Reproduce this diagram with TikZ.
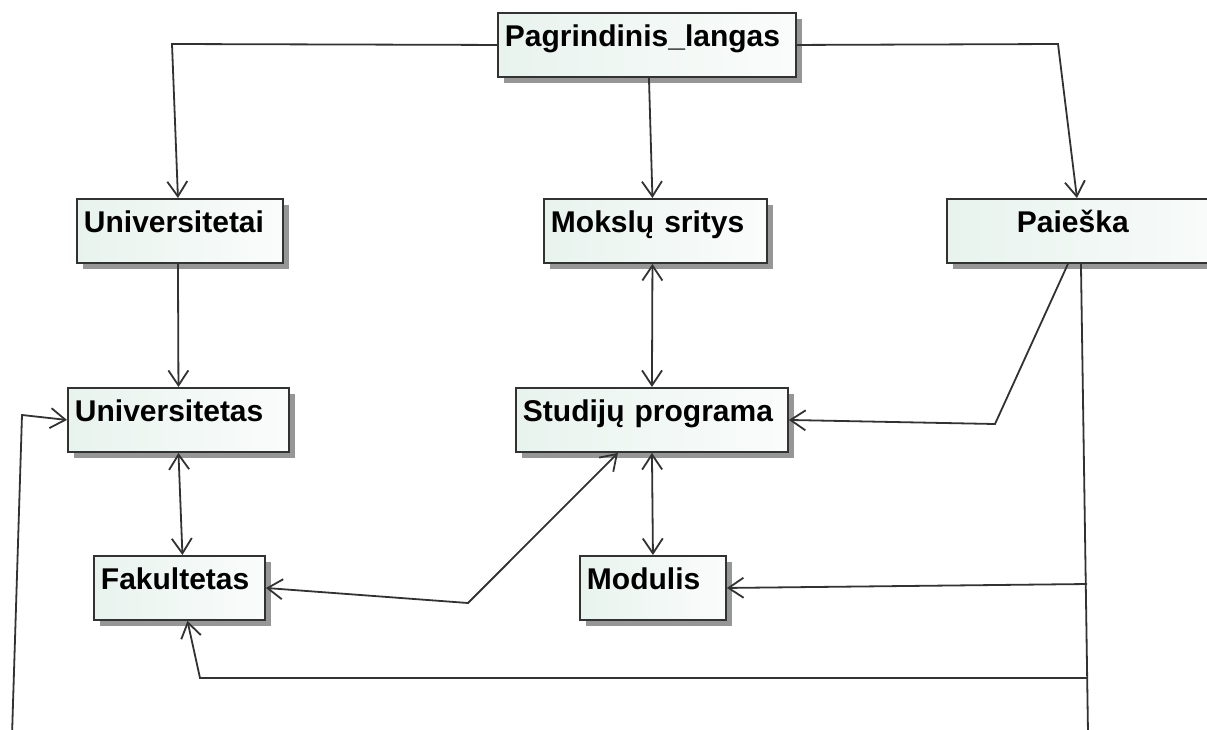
\documentclass[tikz,border=0pt]{standalone}
\usepackage{fontspec}
\setmainfont{Liberation Sans}
\usetikzlibrary{arrows.meta,shadows}
\definecolor{linegray}{RGB}{50,50,50}
\definecolor{boxleft}{RGB}{232,243,238}
\definecolor{boxright}{RGB}{250,252,251}
\definecolor{shadowgray}{RGB}{150,150,150}
\tikzset{
  box/.style={draw=linegray, line width=1.9pt, left color=boxleft, right color=boxright,
    anchor=north west, inner xsep=7pt, inner ysep=0pt, text height=34pt, text depth=30pt,
    align=left, font=\fontsize{30}{32}\selectfont\bfseries,
    drop shadow={shadow xshift=6pt, shadow yshift=-6pt, fill=shadowgray, opacity=1}},
  conn/.style={draw=linegray, line width=1.8pt, line join=miter},
  tip/.style={-{Straight Barb[length=15pt,width=20pt]}},
  tips/.style={{Straight Barb[length=15pt,width=20pt]}-{Straight Barb[length=15pt,width=20pt]}},
}
\begin{document}
\begin{tikzpicture}[x=1pt,y=-1pt]
\useasboundingbox[fill=white] (0,0) rectangle (1207,729);
\clip (0,0) rectangle (1207,729);

% screens
\node[box, text width=284pt] (pag) at (497,12) {Pagrindinis\_langas};
\node[box, text width=192pt] (unitai) at (76,198) {Universitetai};
\node[box, text width=209pt] (moks) at (543,198) {Mokslų sritys};
\node[box, text width=286pt] (paieska) at (946,198) {\hspace*{63pt}Paieška};
\node[box, text width=207pt] (univ) at (67,387) {Universitetas};
\node[box, text width=258pt] (stud) at (515,387) {Studijų programa};
\node[box, text width=157pt] (fak) at (93,555) {Fakultetas};
\node[box, text width=132pt] (mod) at (579,555) {Modulis};

% bend points
\coordinate (b1) at (172,44);
\coordinate (b2) at (1058,44);
\coordinate (b3) at (468,603);
\coordinate (b4) at (995,424);
\coordinate (t1) at (1087,584);
\coordinate (t2) at (1087.5,678);
\coordinate (b5) at (200,678);
\coordinate (t3) at (1089,800);
\coordinate (b6) at (10,800);
\coordinate (b7) at (22,415);

% navigation from the main window
\draw[conn,tip] (pag.west) -- (b1) -- ([xshift=-2pt]unitai.north);
\draw[conn,tip] ([xshift=2pt]pag.south) -- ([xshift=-3pt]moks.north);
\draw[conn,tip] (pag.east) -- (b2) -- ([xshift=-20pt]paieska.north);

% links between screens
\draw[conn,tip] ([xshift=-2pt]unitai.south) -- (univ.north);
\draw[conn,tips] ([xshift=-3pt]moks.south) -- (stud.north);
\draw[conn,tips] (univ.south) -- ([xshift=3pt]fak.north);
\draw[conn,tips] (stud.south) -- (mod.north);
\draw[conn,tips] (fak.east) -- (b3) -- ([xshift=-34pt]stud.south);

% search results
\draw[conn,tip] ([xshift=-29pt]paieska.south) -- (b4) -- (stud.east);
\draw[conn] ([xshift=-16pt]paieska.south) -- (t3);
\draw[conn,tip] (t1) -- (mod.east);
\draw[conn,tip] (t2) -- (b5) -- ([xshift=8pt]fak.south);
\draw[conn,tip] (t3) -- (b6) -- (b7) -- (univ.west);
\end{tikzpicture}
\end{document}
